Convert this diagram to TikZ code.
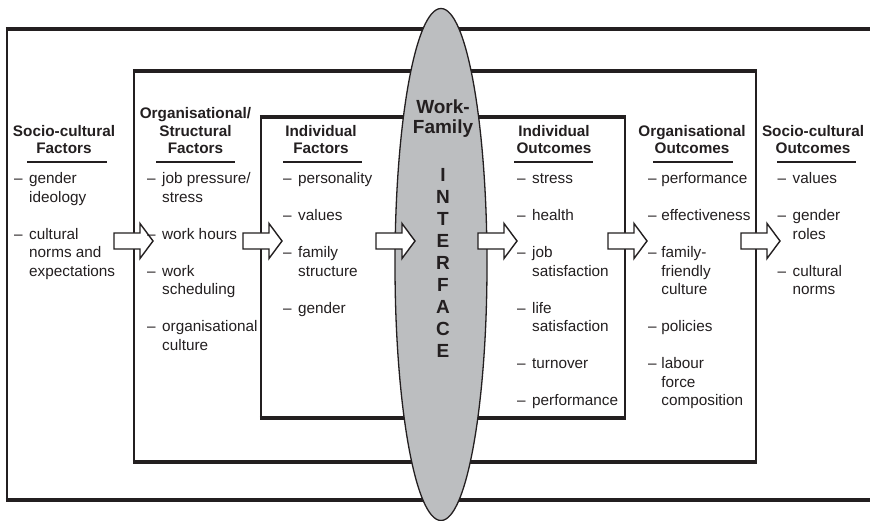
\documentclass[tikz,border=0pt]{standalone}
\usepackage{fontspec}
\setmainfont{Liberation Sans}
\definecolor{ink}{HTML}{231F20}
\definecolor{ifacegrey}{HTML}{BCBEC0}
% item dash with hanging indent
\newcommand\itm[1][15pt]{\makebox[#1][l]{–}}
\newcommand\cont[1][15pt]{\hspace*{#1}}
\newcommand\gap{\\[18.5pt]}
\begin{document}
\begin{tikzpicture}[x=1pt,y=-1pt,
  hline/.style={draw=ink,line width=4pt},
  vline/.style={draw=ink,line width=2.3pt},
  headrule/.style={draw=ink,line width=1.2pt},
  arrowstyle/.style={draw=ink,fill=white,line width=1.4pt,line join=miter},
  blockarrow/.pic={\path[arrowstyle] (0,-8) -- (26,-8) -- (26,-17.5) -- (39,0) -- (26,17.5) -- (26,8) -- (0,8) -- cycle;},
  listtext/.style={anchor=base west,inner sep=0pt,text=ink,font=\fontsize{15.3}{18.5}\selectfont},
  headtext/.style={anchor=base,inner sep=0pt,text=ink,font=\fontsize{15.3}{17.5}\selectfont\bfseries},
  ifacetext/.style={anchor=base,inner sep=0pt,text=ink,font=\fontsize{19}{20}\selectfont\bfseries}]
\useasboundingbox (0,0) rectangle (870,521);
\fill[white] (0,0) rectangle (870,521);

% nested frames
\coordinate (outerTL) at (7,29);
\coordinate (outerBL) at (7,500);
\draw[vline] (outerTL) -- (outerBL);
\draw[hline] (5.85,29) -- (870,29);
\draw[hline] (5.85,500) -- (870,500);

\draw[vline] (134,71) -- (134,462);
\draw[vline] (756,71) -- (756,462);
\draw[hline] (132.85,71) -- (757.15,71);
\draw[hline] (132.85,462) -- (757.15,462);

\draw[vline] (261,117) -- (261,418);
\draw[vline] (625,117) -- (625,418);
\draw[hline] (259.85,117) -- (626.15,117);
\draw[hline] (259.85,418) -- (626.15,418);

% central interface ellipse
\draw[draw=ink,fill=ifacegrey,line width=1.3pt] (441,264.5) ellipse [x radius=46pt, y radius=256pt];

% block arrows between levels
\pic at (114,241) {blockarrow};
\pic at (243,241) {blockarrow};
\pic at (376,241) {blockarrow};
\pic at (478,241) {blockarrow};
\pic at (608,241) {blockarrow};
\pic at (741,241) {blockarrow};

% interface label
\node[ifacetext] (wf) at (443,113.5) {\parbox[t]{80pt}{\centering Work-\\Family}};
\node[ifacetext] (iface) at (443,181.5) {\parbox[t]{40pt}{\centering\lineskiplimit=-10pt\baselineskip=22pt I\\N\\T\\E\\R\\F\\A\\C\\E}};

% headers
\node[headtext] (h1) at (64,154) {\parbox[b]{130pt}{\centering Socio-cultural\\Factors}};
\node[headtext] (h2) at (195.5,154) {\parbox[b]{130pt}{\centering Organisational/\\Structural\\Factors}};
\node[headtext] (h3) at (321,154) {\parbox[b]{130pt}{\centering Individual\\Factors}};
\node[headtext] (h4) at (554,154) {\parbox[b]{130pt}{\centering Individual\\Outcomes}};
\node[headtext] (h5) at (692,154) {\parbox[b]{130pt}{\centering Organisational\\Outcomes}};
\node[headtext] (h6) at (813,154) {\parbox[b]{130pt}{\centering Socio-cultural\\Outcomes}};

\draw[headrule] (27,162) -- (107,162);
\draw[headrule] (156,162) -- (235,162);
\draw[headrule] (283,162) -- (362,162);
\draw[headrule] (514,162) -- (593,162);
\draw[headrule] (653,162) -- (733,162);
\draw[headrule] (777,162) -- (856,162);

% item lists
\node[listtext] (l1) at (14,184) {\parbox[t]{120pt}{\raggedright
\itm gender\\\cont ideology\gap
\itm cultural\\\cont norms and\\\cont expectations}};

\node[listtext] (l2) at (147,184) {\parbox[t]{120pt}{\raggedright
\itm job pressure/\\\cont stress\gap
\itm work hours\gap
\itm work\\\cont scheduling\gap
\itm organisational\\\cont culture}};

\node[listtext] (l3) at (283,184) {\parbox[t]{120pt}{\raggedright
\itm personality\gap
\itm values\gap
\itm family\\\cont structure\gap
\itm gender}};

\node[listtext] (l4) at (517,184) {\parbox[t]{120pt}{\raggedright
\itm stress\gap
\itm health\gap
\itm job\\\cont satisfaction\gap
\itm life\\\cont satisfaction\gap
\itm turnover\gap
\itm performance}};

\node[listtext] (l5) at (648,184) {\parbox[t]{120pt}{\raggedright
\itm[9pt] performance\gap
\itm[9pt] effectiveness\gap
\itm[9pt] family-\\\cont[9pt] friendly\\\cont[9pt] culture\gap
\itm[9pt] policies\gap
\itm[9pt] labour\\\cont[9pt] force\\\cont[9pt] composition}};

\node[listtext] (l6) at (777.5,184) {\parbox[t]{90pt}{\raggedright
\itm values\gap
\itm gender\\\cont roles\gap
\itm cultural\\\cont norms}};
\end{tikzpicture}
\end{document}
